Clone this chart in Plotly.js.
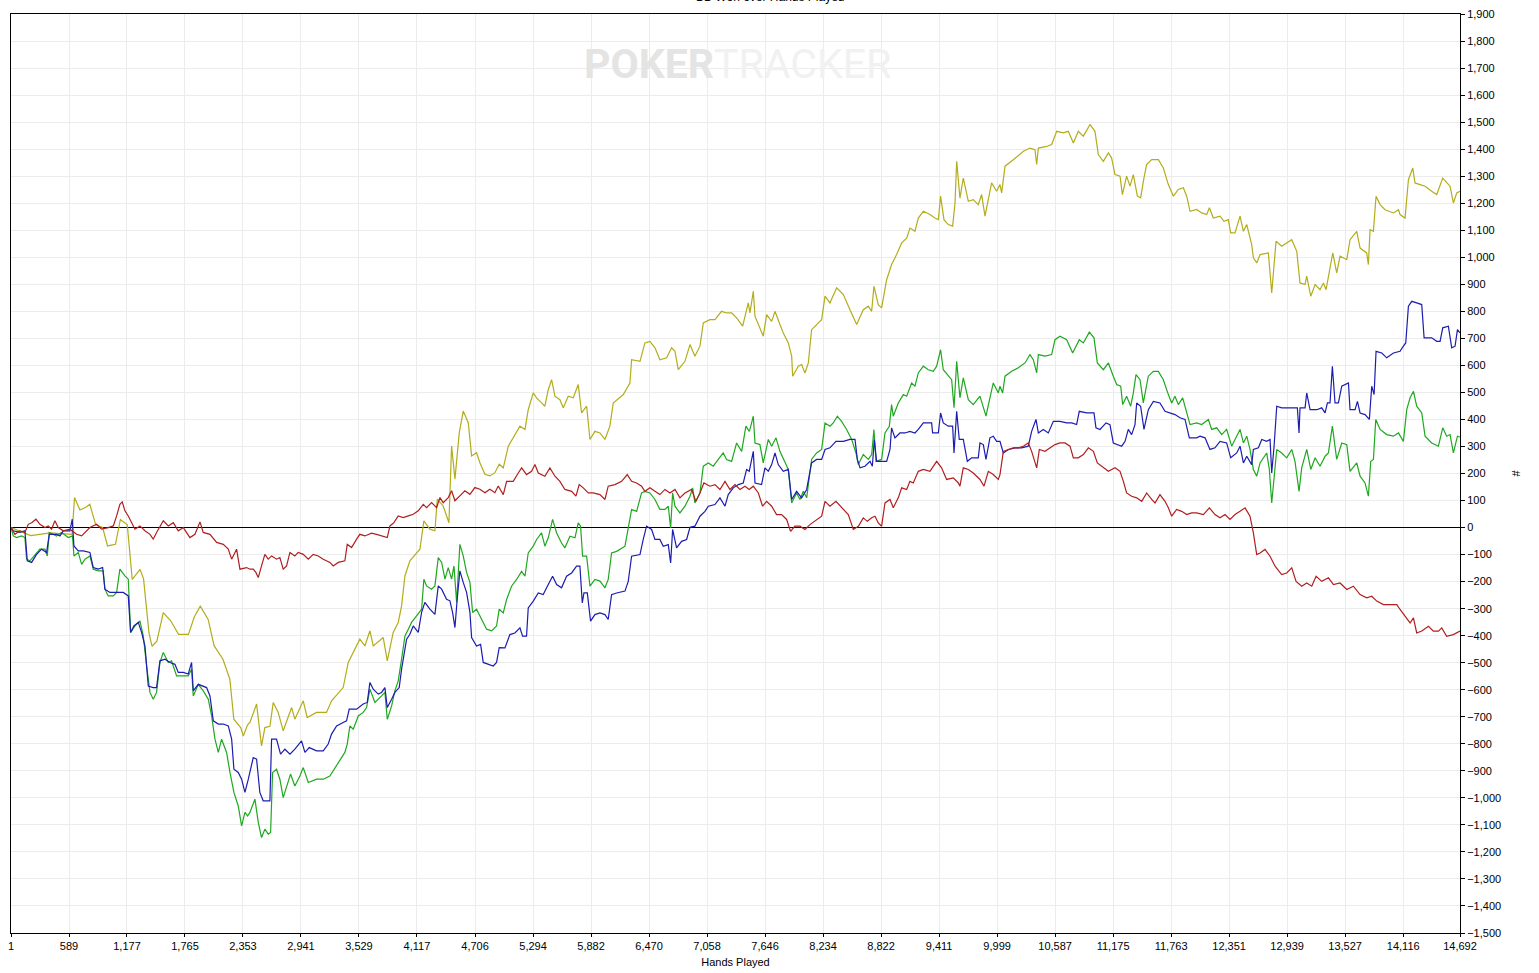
<!DOCTYPE html>
<html>
<head>
<meta charset="utf-8">
<script src="https://cdn.plot.ly/plotly-3.0.1.min.js"></script>
<style>
  html, body { margin: 0; padding: 0; background: #fff; }
  #chart { width: 1539px; height: 973px; }
</style>
</head>
<body>
<div id="chart"></div>
<script>
// [hands played, BB won], one list per line
var yellowPoints = [[1,0],[200,-30],[400,-20],[620,-25],[645,111],[700,65],[760,75],[800,86],[860,10],[930,0],[980,-68],[1060,-62],[1110,30],[1180,10],[1230,-192],[1310,-155],[1345,-190],[1400,-390],[1430,-439],[1480,-420],[1545,-315],[1620,-345],[1700,-395],[1800,-395],[1860,-330],[1920,-291],[2000,-340],[2060,-437],[2150,-487],[2220,-561],[2260,-709],[2330,-740],[2356,-771],[2400,-730],
    [2423,-721],[2457,-684],[2491,-653],[2541,-808],[2575,-740],[2626,-735],[2660,-647],[2710,-684],[2761,-752],[2846,-666],[2879,-709],[2964,-641],[3004,-703],[3099,-684],[3200,-684],[3251,-641],[3369,-592],[3420,-499],[3505,-438],[3538,-413],[3589,-438],[3640,-382],[3674,-438],[3775,-407],[3816,-493],[3876,-388],[3927,-351],[3961,-290],[3995,-179],[4045,-123],[4147,-80],[4187,25],[4248,-6],[4299,-12],[4323,105],[4383,80],[4441,18],[4468,302],[4502,179],[4546,351],[4586,431],[4637,388],[4671,265],[4721,277],[4755,240],[4806,197],[4856,191],[4907,203],[4951,234],
    [4992,221],[5043,301],[5110,344],[5161,375],[5212,363],[5245,436],[5296,498],[5330,480],[5380,461],[5414,449],[5448,510],[5482,547],[5516,486],[5566,473],[5600,443],[5651,486],[5702,480],[5752,529],[5786,424],[5837,449],[5871,326],[5921,356],[5972,350],[6023,326],[6073,375],[6107,461],[6209,492],[6276,535],[6293,621],[6378,615],[6428,683],[6479,689],[6530,665],[6580,621],[6648,628],[6699,665],[6733,652],[6766,584],[6834,615],[6885,677],[6935,634],[6986,671],[7020,757],[7087,769],[7138,769],[7205,800],[7256,794],[7307,794],[7358,776],[7419,745],[7476,831],
    [7493,794],[7527,874],[7544,782],[7628,708],[7662,788],[7713,763],[7747,800],[7797,751],[7831,720],[7882,683],[7916,634],[7926,560],[7983,597],[8017,603],[8051,572],[8085,609],[8118,732],[8169,751],[8220,769],[8254,856],[8304,831],[8372,887],[8440,862],[8507,806],[8575,751],[8642,806],[8693,819],[8727,800],[8750,893],[8794,825],[8828,813],[8879,917],[8929,973],[8980,1010],[9031,1053],[9082,1071],[9115,1108],[9166,1096],[9200,1145],[9251,1170],[9318,1158],[9369,1145],[9403,1139],[9426,1226],[9460,1139],[9504,1121],[9548,1115],[9572,1201],[9589,1355],[9622,1219],[9656,1293],[9707,1207],[9757,1213],[9808,1195],[9842,1232],[9876,1152],[9910,1213],[9943,1275],[9994,1244],
    [10028,1269],[10045,1238],[10079,1337],[10163,1361],[10265,1392],[10332,1404],[10383,1398],[10400,1343],[10417,1404],[10501,1410],[10552,1417],[10603,1466],[10670,1460],[10721,1466],[10772,1423],[10822,1466],[10873,1448],[10941,1491],[10991,1466],[11025,1380],[11076,1355],[11127,1386],[11160,1367],[11194,1306],[11245,1300],[11269,1232],[11312,1300],[11346,1263],[11380,1306],[11421,1226],[11454,1220],[11488,1294],[11515,1343],[11566,1361],[11634,1361],[11684,1330],[11735,1269],[11786,1226],[11836,1251],[11887,1257],[11921,1226],[11955,1170],[12022,1177],[12073,1164],[12124,1158],[12151,1183],[12191,1145],[12259,1152],[12299,1133],[12343,1139],[12367,1090],[12411,1090],
    [12462,1152],[12496,1096],[12530,1121],[12580,1047],[12597,998],[12631,979],[12665,1010],[12749,1016],[12783,868],[12800,942],[12827,1059],[12884,1041],[12935,1053],[12986,1065],[13037,1022],[13070,905],[13121,899],[13138,930],[13179,856],[13223,899],[13273,880],[13307,905],[13334,880],[13358,924],[13402,1016],[13442,942],[13476,1004],[13544,991],[13577,1065],[13645,1096],[13679,1034],[13746,1016],[13763,973],[13780,1102],[13814,1096],[13841,1226],[13882,1195],[13932,1176],[14017,1164],[14068,1176],[14084,1158],[14135,1145],[14169,1287],[14213,1330],[14236,1275],[14287,1269],[14338,1263],[14405,1244],[14456,1232],[14517,1293],[14557,1275],[14591,1263],[14625,1201],[14659,1238],[14692,1244]];

var greenPoints = [[1,0],[24,-31],[58,-37],[108,-31],[142,-37],[159,-117],[193,-123],[244,-99],[294,-80],[345,-80],[369,-105],[389,-18],[463,-31],[514,-18],[582,-37],[625,-31],[639,-105],[683,-92],[717,-136],[751,-117],[801,-105],[835,-154],[886,-160],[936,-160],[953,-228],[987,-253],[1038,-253],[1072,-240],[1105,-154],[1156,-179],[1190,-191],[1214,-388],[1258,-364],[1308,-345],[1342,-401],[1376,-512],[1410,-610],[1443,-635],[1477,-610],[1511,-499],[1545,-462],[1596,-499],[1629,-493],[1680,-549],[1748,-549],[1798,-549],[1832,-524],[1849,-623],[1900,-580],[1950,-604],[2001,-635],[2035,-697],[2069,-783],[2103,-832],[2136,-783],[2187,-832],[2221,-906],[2261,-980],[2305,-1030],[2339,-1104],[2373,-1054],[2400,-1067],
    [2423,-1054],[2474,-1005],[2508,-1091],[2541,-1147],[2575,-1116],[2609,-1134],[2633,-1128],[2653,-906],[2693,-894],[2727,-931],[2761,-999],[2795,-962],[2835,-912],[2879,-956],[2930,-919],[2964,-888],[3015,-943],[3099,-931],[3167,-931],[3234,-919],[3285,-888],[3336,-857],[3386,-832],[3410,-801],[3437,-734],[3471,-746],[3522,-697],[3572,-684],[3606,-666],[3640,-598],[3691,-647],[3758,-623],[3792,-610],[3816,-709],[3860,-660],[3893,-604],[3927,-567],[3961,-487],[3995,-401],[4029,-376],[4062,-351],[4113,-327],[4164,-302],[4187,-191],[4214,-216],[4265,-228],[4299,-216],[4333,-111],[4367,-129],[4401,-191],[4434,-148],[4468,-191],[4492,-142],[4519,-277],[4552,-62],[4586,-105],[4620,-166],[4654,-203],[4681,-314],[4721,-302],[4772,-339],[4823,-376],[4874,-382],[4924,-364],[4951,-302],
    [4992,-316],[5026,-266],[5076,-217],[5127,-192],[5178,-162],[5212,-180],[5245,-94],[5296,-69],[5330,-44],[5380,-20],[5414,-69],[5448,-38],[5492,30],[5533,-20],[5583,-57],[5617,-75],[5668,-32],[5719,-38],[5752,17],[5776,5],[5796,-106],[5837,-106],[5871,-217],[5921,-192],[5972,-198],[6023,-223],[6056,-192],[6090,-94],[6141,-88],[6226,-69],[6259,-7],[6293,67],[6344,60],[6394,128],[6428,134],[6479,128],[6530,104],[6580,67],[6631,67],[6665,79],[6689,-1],[6709,128],[6733,79],[6783,54],[6834,79],[6885,116],[6912,147],[6935,91],[6986,128],[7020,227],[7071,239],[7121,227],[7172,252],[7222,276],[7256,252],[7307,245],[7358,313],[7409,282],[7452,375],[7486,356],
    [7493,363],[7527,412],[7544,313],[7594,307],[7628,239],[7679,326],[7713,301],[7757,332],[7797,282],[7848,239],[7882,215],[7916,91],[7966,128],[8000,104],[8034,134],[8068,110],[8118,252],[8169,276],[8220,289],[8254,387],[8304,375],[8338,387],[8379,412],[8422,393],[8473,363],[8524,326],[8568,276],[8592,233],[8642,270],[8693,252],[8727,270],[8750,363],[8771,245],[8828,252],[8862,350],[8906,375],[8929,455],[8946,412],[8997,461],[9048,492],[9082,486],[9132,535],[9166,523],[9200,572],[9251,597],[9301,584],[9352,578],[9386,597],[9426,658],[9453,584],[9504,560],[9538,547],[9562,443],[9589,615],[9622,480],[9656,554],[9707,473],[9757,455],[9825,486],[9859,449],[9886,412],[9926,480],[9960,535],[10011,498],
    [10028,523],[10055,498],[10079,560],[10146,578],[10214,591],[10282,609],[10332,640],[10366,621],[10400,572],[10417,640],[10484,634],[10552,640],[10586,695],[10636,708],[10704,695],[10765,646],[10832,695],[10873,683],[10934,723],[10981,702],[11015,609],[11076,584],[11127,609],[11177,560],[11211,529],[11252,523],[11272,455],[11312,486],[11353,449],[11380,498],[11407,566],[11448,547],[11481,461],[11532,560],[11583,578],[11634,578],[11684,547],[11735,492],[11769,461],[11802,486],[11836,455],[11880,480],[11921,430],[11955,381],[12022,387],[12073,381],[12141,400],[12174,363],[12225,369],[12276,344],[12326,363],[12377,301],[12411,326],
    [12462,363],[12496,313],[12530,338],[12563,289],[12597,215],[12631,190],[12665,239],[12732,276],[12759,215],[12783,91],[12800,165],[12834,289],[12884,276],[12935,258],[12986,289],[13019,245],[13060,134],[13087,221],[13138,289],[13179,215],[13223,258],[13273,227],[13324,264],[13358,276],[13398,375],[13442,252],[13493,313],[13544,307],[13577,208],[13645,239],[13679,190],[13729,165],[13763,116],[13787,245],[13814,252],[13838,400],[13882,363],[13949,344],[14017,338],[14068,350],[14118,319],[14152,436],[14186,480],[14220,504],[14253,449],[14304,424],[14338,338],[14405,313],[14473,301],[14517,369],[14557,338],[14591,344],[14625,276],[14666,338],[14692,335]];

var bluePoints = [[1,0],[24,-12],[91,-18],[142,-12],[166,-123],[210,-129],[260,-99],[311,-80],[362,-92],[389,-25],[463,-25],[497,-31],[531,-12],[598,-12],[622,31],[639,-68],[683,-86],[734,-86],[801,-92],[835,-148],[886,-154],[930,-148],[953,-228],[1004,-240],[1072,-240],[1139,-240],[1190,-253],[1214,-388],[1247,-364],[1291,-351],[1325,-388],[1359,-438],[1393,-586],[1443,-592],[1477,-592],[1511,-493],[1562,-487],[1612,-499],[1663,-506],[1697,-536],[1748,-536],[1798,-542],[1832,-499],[1849,-604],[1900,-580],[1950,-586],[1984,-592],[2018,-623],[2052,-715],[2103,-727],[2153,-727],[2204,-734],[2238,-783],[2261,-894],[2305,-906],[2339,-931],[2373,-980],[2407,-931],
    [2423,-906],[2457,-851],[2491,-857],[2524,-980],[2558,-1011],[2626,-1011],[2643,-783],[2693,-783],[2734,-838],[2778,-820],[2829,-838],[2879,-820],[2947,-789],[2981,-832],[3025,-814],[3099,-826],[3167,-826],[3217,-801],[3251,-764],[3302,-734],[3369,-721],[3403,-715],[3430,-672],[3505,-672],[3572,-653],[3613,-647],[3640,-573],[3674,-598],[3724,-616],[3758,-610],[3792,-592],[3816,-666],[3860,-635],[3893,-610],[3937,-592],[3961,-524],[4012,-413],[4045,-395],[4079,-364],[4130,-388],[4164,-314],[4197,-277],[4248,-302],[4299,-321],[4333,-216],[4367,-228],[4417,-265],[4451,-271],[4478,-314],[4502,-370],[4525,-265],[4552,-160],[4586,-203],[4620,-240],[4654,-314],[4671,-407],[4721,-438],[4762,-432],[4789,-499],[4840,-506],[4890,-512],[4924,-499],[4951,-444],
    [5009,-445],[5059,-396],[5110,-390],[5161,-371],[5188,-402],[5228,-402],[5245,-297],[5296,-272],[5347,-242],[5397,-248],[5448,-211],[5492,-180],[5533,-211],[5583,-223],[5634,-180],[5685,-168],[5735,-143],[5769,-143],[5793,-279],[5810,-242],[5844,-242],[5877,-346],[5921,-322],[5972,-316],[6023,-322],[6056,-340],[6090,-248],[6141,-242],[6226,-235],[6259,-199],[6293,-106],[6378,-100],[6411,-44],[6445,5],[6496,-7],[6530,-44],[6580,-44],[6614,-69],[6665,-63],[6689,-131],[6709,-7],[6749,-75],[6800,-51],[6851,-44],[6885,1],[6935,5],[6986,42],[7037,60],[7071,79],[7138,85],[7189,110],[7240,79],[7273,122],[7324,147],[7375,159],[7425,165],[7459,215],[7486,208],
    [7493,221],[7527,282],[7544,165],[7611,159],[7645,221],[7679,208],[7713,233],[7747,276],[7780,233],[7831,208],[7882,215],[7916,104],[7966,134],[8017,110],[8068,141],[8118,239],[8169,252],[8220,252],[8254,289],[8304,295],[8365,319],[8440,319],[8507,326],[8558,326],[8582,252],[8609,221],[8659,227],[8710,245],[8734,227],[8754,326],[8777,245],[8828,245],[8879,245],[8913,289],[8929,369],[8963,332],[9014,350],[9065,350],[9115,356],[9166,350],[9200,363],[9251,387],[9301,387],[9335,387],[9345,350],[9403,350],[9426,424],[9453,387],[9504,375],[9548,375],[9562,276],[9589,430],[9615,326],[9656,326],[9697,245],[9741,258],[9808,258],[9825,313],[9859,307],[9886,252],[9926,332],[9960,338],[9994,319],
    [10028,319],[10062,276],[10113,289],[10180,295],[10248,295],[10315,301],[10349,356],[10393,400],[10417,350],[10467,363],[10518,350],[10569,393],[10636,393],[10704,387],[10755,387],[10805,381],[10832,430],[10907,424],[10981,424],[11001,369],[11042,363],[11103,387],[11143,381],[11177,313],[11211,307],[11262,301],[11296,319],[11329,363],[11363,344],[11397,381],[11414,461],[11454,449],[11488,363],[11532,436],[11583,467],[11650,461],[11701,430],[11752,424],[11802,418],[11853,406],[11904,400],[11948,332],[12022,332],[12056,338],[12107,332],[12157,289],[12208,295],[12259,319],[12326,313],[12367,258],[12428,276],
    [12462,301],[12496,239],[12530,264],[12580,233],[12597,289],[12648,295],[12682,326],[12732,319],[12766,326],[12783,202],[12807,301],[12834,449],[12884,443],[12969,443],[13043,443],[13060,350],[13070,443],[13121,443],[13138,498],[13172,436],[13240,436],[13290,443],[13324,424],[13348,461],[13374,461],[13398,597],[13425,461],[13459,461],[13493,523],[13561,535],[13577,436],[13628,436],[13652,467],[13679,424],[13729,418],[13773,400],[13797,523],[13821,492],[13841,652],[13899,646],[13949,628],[14017,646],[14084,652],[14118,671],[14142,683],[14169,819],[14203,837],[14253,831],[14304,825],[14328,702],[14405,702],[14456,689],[14490,689],[14517,739],[14574,745],[14608,665],[14642,671],[14666,732],[14692,720]];

var redPoints = [[1,0],[41,-25],[91,-12],[142,-18],[176,12],[210,18],[254,31],[294,12],[345,0],[379,6],[412,-6],[446,25],[480,0],[531,-12],[598,-6],[666,-25],[717,-31],[767,-12],[801,0],[869,12],[919,-6],[987,0],[1038,6],[1072,43],[1105,86],[1129,95],[1156,62],[1190,43],[1224,18],[1258,-6],[1308,6],[1359,-12],[1410,-25],[1443,-43],[1477,-18],[1545,25],[1596,6],[1646,18],[1697,-12],[1748,0],[1815,-37],[1866,-25],[1917,21],[1950,-18],[2018,-25],[2086,-55],[2153,-62],[2204,-80],[2238,-117],[2288,-80],[2322,-154],[2390,-148],
    [2423,-154],[2457,-154],[2484,-166],[2508,-185],[2541,-142],[2575,-99],[2609,-117],[2643,-105],[2693,-117],[2727,-111],[2761,-154],[2795,-142],[2829,-92],[2879,-105],[2913,-92],[2964,-99],[3015,-117],[3065,-99],[3116,-105],[3167,-117],[3234,-129],[3268,-142],[3319,-129],[3386,-123],[3410,-62],[3454,-74],[3505,-43],[3538,-25],[3589,-31],[3657,-21],[3707,-25],[3775,-31],[3816,-37],[3843,6],[3883,18],[3927,43],[3978,37],[4029,43],[4079,49],[4130,62],[4181,86],[4214,74],[4265,92],[4316,74],[4350,111],[4383,92],[4434,111],[4468,136],[4502,99],[4552,117],[4603,136],[4654,123],[4704,148],[4755,142],[4806,129],[4856,142],[4907,129],[4941,154],
    [4992,122],[5026,171],[5093,171],[5144,202],[5178,221],[5228,196],[5279,208],[5313,233],[5347,202],[5414,190],[5465,221],[5516,190],[5566,171],[5617,141],[5685,134],[5729,116],[5762,159],[5803,147],[5854,128],[5904,128],[5972,122],[6023,104],[6056,153],[6124,159],[6192,171],[6249,196],[6293,171],[6344,165],[6394,153],[6428,134],[6479,147],[6530,134],[6580,122],[6631,141],[6682,128],[6733,141],[6783,110],[6834,128],[6901,141],[6945,97],[6986,128],[7026,165],[7087,153],[7138,159],[7189,141],[7240,171],[7290,141],[7341,159],[7392,141],[7442,153],[7486,141],
    [7527,153],[7578,128],[7621,79],[7662,97],[7713,79],[7763,48],[7814,48],[7865,30],[7905,-14],[7949,5],[8000,5],[8051,-7],[8101,11],[8169,30],[8220,42],[8254,97],[8304,79],[8365,97],[8422,73],[8490,48],[8541,-7],[8592,5],[8642,36],[8683,23],[8727,36],[8761,42],[8794,17],[8828,5],[8862,91],[8913,104],[8946,73],[8997,110],[9031,147],[9082,141],[9115,171],[9149,165],[9200,208],[9251,215],[9318,208],[9386,245],[9436,221],[9487,178],[9555,184],[9606,165],[9622,153],[9656,221],[9707,215],[9757,202],[9825,178],[9866,153],[9910,208],[9960,196],[10011,178],
    [10028,196],[10062,282],[10113,289],[10163,295],[10214,295],[10265,301],[10315,313],[10349,282],[10400,221],[10427,289],[10484,282],[10535,295],[10586,307],[10636,313],[10687,313],[10738,301],[10772,258],[10822,258],[10873,270],[10924,295],[10975,282],[11015,239],[11076,221],[11127,208],[11194,221],[11245,208],[11279,171],[11312,128],[11363,116],[11414,110],[11465,97],[11515,128],[11566,104],[11600,91],[11650,122],[11701,97],[11735,73],[11769,42],[11819,67],[11870,60],[11921,48],[11972,54],[12022,54],[12090,48],[12151,73],[12208,48],[12259,36],[12310,48],[12360,30],[12411,48],
    [12462,60],[12513,73],[12563,42],[12597,-20],[12631,-100],[12665,-94],[12715,-81],[12766,-106],[12817,-143],[12884,-174],[12935,-168],[12986,-149],[13030,-199],[13087,-217],[13138,-205],[13189,-217],[13233,-180],[13290,-199],[13358,-186],[13409,-211],[13476,-205],[13544,-229],[13611,-217],[13679,-248],[13746,-260],[13797,-254],[13848,-272],[13916,-285],[13983,-285],[14051,-285],[14084,-303],[14135,-328],[14186,-353],[14220,-334],[14253,-390],[14304,-383],[14372,-365],[14422,-383],[14473,-383],[14507,-371],[14557,-402],[14625,-396],[14692,-383]];

var xTickVals = [1, 589, 1177, 1765, 2353, 2941, 3529, 4117, 4706, 5294, 5882, 6470, 7058,
    7646, 8234, 8822, 9411, 9999, 10587, 11175, 11763, 12351, 12939, 13527, 14116, 14692];
var xTickText = ['1', '589', '1,177', '1,765', '2,353', '2,941', '3,529', '4,117', '4,706',
    '5,294', '5,882', '6,470', '7,058', '7,646', '8,234', '8,822', '9,411', '9,999',
    '10,587', '11,175', '11,763', '12,351', '12,939', '13,527', '14,116', '14,692'];

var axisFont = {family: 'Liberation Sans, Arial, sans-serif', size: 11, color: '#000'};

function makeLine(points, colour) {
    return {
        x: points.map(function (p) { return p[0]; }),
        y: points.map(function (p) { return p[1]; }),
        type: 'scatter',
        mode: 'lines',
        line: {color: colour, width: 1.2},
        hoverinfo: 'skip'
    };
}

var data = [
    makeLine(yellowPoints, '#b3ad1c'),
    makeLine(greenPoints, '#1fa81f'),
    makeLine(bluePoints, '#1c1cb0'),
    makeLine(redPoints, '#b01f1f')
];

var layout = {
    width: 1539,
    height: 973,
    margin: {l: 11, r: 79, t: 14, b: 40},
    paper_bgcolor: '#fff',
    plot_bgcolor: '#fff',
    showlegend: false,
    xaxis: {
        range: [1, 14692],
        tickvals: xTickVals,
        ticktext: xTickText,
        tickfont: axisFont,
        ticks: 'outside',
        ticklen: 3,
        tickcolor: '#000',
        showline: true,
        linecolor: '#000',
        linewidth: 1,
        mirror: true,
        showgrid: true,
        gridcolor: '#ececec',
        zeroline: false,
        title: {text: 'Hands Played', font: axisFont, standoff: 7}
    },
    yaxis: {
        side: 'right',
        range: [-1500, 1900],
        dtick: 100,
        tick0: 0,
        tickformat: ',d',
        tickfont: axisFont,
        ticks: 'outside',
        ticklen: 4,
        tickcolor: '#000',
        showline: true,
        linecolor: '#000',
        linewidth: 1,
        mirror: true,
        showgrid: true,
        gridcolor: '#ececec',
        zeroline: true,
        zerolinecolor: '#000',
        zerolinewidth: 1,
        title: {text: '#', font: axisFont, standoff: 12}
    },
    annotations: [{
        // chart title, mostly above the top edge of the picture as in the source
        text: 'BB Won over Hands Played',
        xref: 'paper', yref: 'paper',
        x: 0.524, y: 1.0087,
        xanchor: 'center', yanchor: 'bottom',
        showarrow: false,
        font: {family: 'Liberation Sans, Arial, sans-serif', size: 12, color: '#000'}
    }, {
        text: '<span style="color:#e4e4e4"><b>POKER</b></span><span style="color:#f1f1f1">TRACKER</span>',
        xref: 'paper', yref: 'paper',
        x: 0.5017, y: 0.9455,
        xanchor: 'center', yanchor: 'middle',
        showarrow: false,
        font: {family: 'Roboto, Liberation Sans, sans-serif', size: 41}
    }]
};

Plotly.newPlot('chart', data, layout, {staticPlot: true, displayModeBar: false});
</script>
</body>
</html>
